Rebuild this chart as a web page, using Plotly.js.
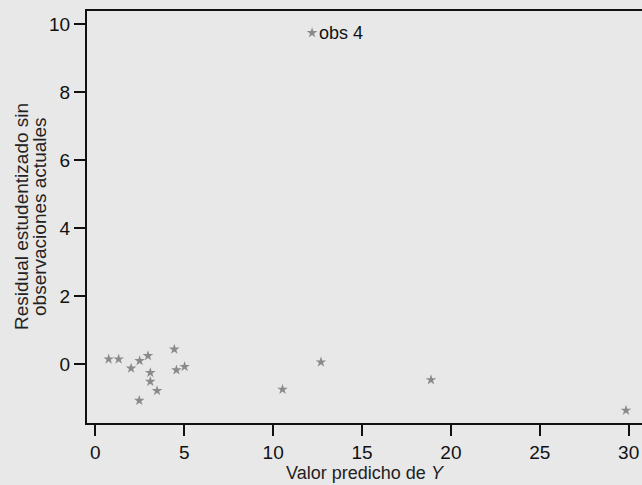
<!DOCTYPE html>
<html>
<head>
<meta charset="utf-8">
<script src="https://cdn.plot.ly/plotly-3.0.1.min.js"></script>
<style>
html,body{margin:0;padding:0;background:#e8e8e8;overflow:hidden;}
#chart{width:642px;height:485px;}
</style>
</head>
<body>
<div id="chart"></div>
<script>
// Predicted value of Y (x) and studentized deleted residual (y)
const predicted = [0.75, 1.31, 2.01, 2.49, 2.96, 3.09, 3.09, 3.47, 2.47, 4.44, 4.56, 5.02, 10.53, 12.69, 18.88, 29.85, 12.19];
const residuals = [0.14, 0.14, -0.13, 0.09, 0.24, -0.26, -0.52, -0.79, -1.08, 0.43, -0.18, -0.08, -0.75, 0.05, -0.47, -1.37, 9.75];

const outlierX = 12.19;
const outlierY = 9.75;
const outlierLabel = 'obs 4';

const xTicks = [0, 5, 10, 15, 20, 25, 30];
const yTicks = [0, 2, 4, 6, 8, 10];
const yTitleLines = ['Residual estudentizado sin', 'observaciones actuales'];

const FONT = 'Liberation Sans, Arial, Helvetica, sans-serif';

const traces = [
  {
    x: predicted, y: residuals, type: 'scatter', mode: 'markers',
    marker: {symbol: 'star', size: 8, color: '#8a8a8a', line: {width: 0}},
    showlegend: false
  }
];

const layout = {
  width: 642, height: 485,
  margin: {l: 87, r: 0, t: 11, b: 62},
  paper_bgcolor: '#e8e8e8', plot_bgcolor: '#e8e8e8',
  font: {family: FONT, size: 18, color: '#111'},
  showlegend: false,
  xaxis: {
    range: [-0.47, 30.75], tickvals: xTicks, ticktext: xTicks.map(String),
    showgrid: false, zeroline: false,
    showline: true, linecolor: '#111', linewidth: 2, mirror: true,
    ticks: 'outside', ticklen: 11, tickwidth: 2, tickcolor: '#111',
    tickfont: {size: 19, color: '#111'},
    title: {text: 'Valor predicho de <i>Y</i>', font: {size: 18, color: '#222'}, standoff: 2},
    automargin: false
  },
  yaxis: {
    range: [-1.74, 10.39], tickvals: yTicks, ticktext: yTicks.map(String),
    showgrid: false, zeroline: false,
    showline: true, linecolor: '#111', linewidth: 2,
    ticks: 'outside', ticklen: 11, tickwidth: 2, tickcolor: '#111',
    tickfont: {size: 19, color: '#111'},
    automargin: false
  },
  annotations: [
    {x: outlierX, y: outlierY, xref: 'x', yref: 'y', text: outlierLabel, showarrow: false,
     xanchor: 'left', yanchor: 'middle', xshift: 5, font: {size: 18, color: '#111'}},
    {x: 0, y: 0.5, xref: 'paper', yref: 'paper', text: yTitleLines[0], showarrow: false,
     textangle: -90, xanchor: 'center', yanchor: 'middle', xshift: -66,
     font: {size: 19, color: '#222'}},
    {x: 0, y: 0.5, xref: 'paper', yref: 'paper', text: yTitleLines[1], showarrow: false,
     textangle: -90, xanchor: 'center', yanchor: 'middle', xshift: -48,
     font: {size: 19, color: '#222'}}
  ]
};

Plotly.newPlot('chart', traces, layout, {displayModeBar: false, staticPlot: true});
</script>
</body>
</html>
